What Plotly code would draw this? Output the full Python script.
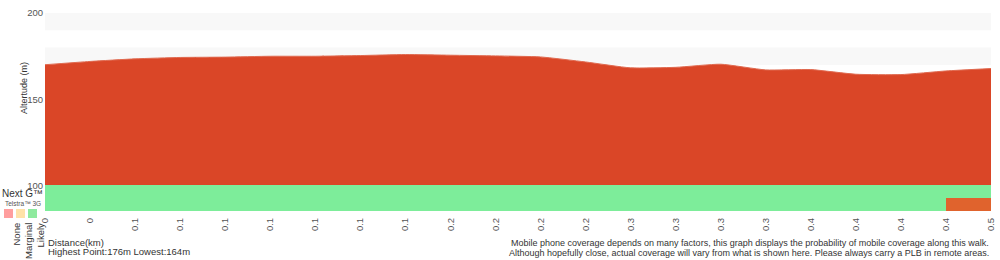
import plotly.graph_objects as go

# ---- data ----
point_index = list(range(22))
tick_labels = ["0", "0", "0.1", "0.1", "0.1", "0.1", "0.1", "0.1", "0.1", "0.2", "0.2",
               "0.2", "0.2", "0.3", "0.3", "0.3", "0.3", "0.4", "0.4", "0.4", "0.4", "0.5"]
altitude = [170.1, 172.0, 173.5, 174.3, 174.5, 175.0, 175.0, 175.4, 176.0, 175.6, 175.2,
            174.6, 171.7, 168.3, 168.6, 170.4, 167.1, 167.3, 164.6, 164.4, 166.5, 167.9]
# coverage per segment: 2 = Likely, 1 = Marginal, 0 = None
next_g = [2] * 21
telstra_3g = [2] * 20 + [1]
coverage_rows = ["Telstra 3G", "Next G"]
legend_labels = ["None", "Marginal", "Likely"]
legend_colors = ["#ff9e9e", "#ffe2a8", "#8eea9e"]

W, H = 1000, 260
def py(px):
    return (H - px) / H

FONT = "Liberation Sans, Arial, sans-serif"

fig = go.Figure()

fig.add_trace(go.Scatter(
    x=point_index, y=altitude, mode="lines", fill="tozeroy",
    line=dict(color="#e06a50", width=1, shape="spline", smoothing=0.5),
    fillcolor="#da4627", hoverinfo="skip", showlegend=False,
))

fig.add_trace(go.Heatmap(
    x=point_index, y=[0, 1, 2], z=[telstra_3g, next_g],
    zmin=0, zmax=2,
    colorscale=[[0, "#f58a8a"], [0.3333, "#f58a8a"], [0.3334, "#e0632d"], [0.6666, "#e0632d"],
                [0.6667, "#7ded9a"], [1, "#7ded9a"]],
    showscale=False, xaxis="x", yaxis="y2", hoverinfo="skip",
))

# alternating background bands
for lo, hi in [(190, 200), (170, 180), (150, 160), (130, 140), (110, 120)]:
    fig.add_shape(type="rect", xref="paper", yref="y", x0=0.045, x1=0.991, y0=lo, y1=hi,
                  fillcolor="#f8f8f8", line_width=0, layer="below")

fig.update_layout(
    width=W, height=H, margin=dict(l=0, r=0, t=0, b=0, autoexpand=False),
    paper_bgcolor="white", plot_bgcolor="white",
    font=dict(family=FONT, size=9, color="#333"),
    xaxis=dict(domain=[0.045, 0.991], range=[0, 21], anchor="y2", automargin=False,
               tickmode="array", tickvals=point_index, ticktext=tick_labels,
               tickangle=-90, tickfont=dict(size=9.5, color="#555"), ticklabelstandoff=4,
               showgrid=False, zeroline=False, showline=False, ticks=""),
    yaxis=dict(domain=[py(186), py(13)], range=[100, 200], anchor="x", automargin=False,
               tickvals=[100, 150, 200], tickfont=dict(size=9.5, color="#555"),
               ticklabelstandoff=1,
               showgrid=False, zeroline=False, showline=False, ticks=""),
    yaxis2=dict(domain=[py(211), py(185)], range=[0, 2], anchor="x", automargin=False,
                showticklabels=False, showgrid=False, zeroline=False, showline=False),
)

ann = []
ann.append(dict(x=0.017, y=py(88), xref="paper", yref="paper", text="Altertude (m)",
                textangle=-90, showarrow=False, font=dict(size=9, color="#333")))
ann.append(dict(x=0, y=py(201), xref="paper", yref="paper", text="Next G™",
                xanchor="left", showarrow=False, font=dict(size=10, color="#333")))
ann.append(dict(x=0.003, y=py(209), xref="paper", yref="paper", text="Telstra™ 3G",
                xanchor="left", showarrow=False, font=dict(size=6.5, color="#555")))
for i, (lab, col) in enumerate(zip(legend_labels, legend_colors)):
    x0 = 4 + 12 * i
    fig.add_shape(type="rect", xref="paper", yref="paper", x0=x0 / W, x1=(x0 + 9) / W,
                  y0=py(218), y1=py(209), fillcolor=col, line_width=0)
    ann.append(dict(x=(x0 + 4.5) / W, y=py(221), xref="paper", yref="paper", text=lab,
                    textangle=-90, yanchor="top", showarrow=False,
                    font=dict(size=9.5, color="#333")))
ann.append(dict(x=0.046, y=py(250), xref="paper", yref="paper", text="Distance(km)",
                xanchor="left", showarrow=False, font=dict(size=9.5, color="#333")))
ann.append(dict(x=0.046, y=py(259), xref="paper", yref="paper",
                text="Highest Point:176m Lowest:164m",
                xanchor="left", showarrow=False, font=dict(size=9.5, color="#333")))
ann.append(dict(x=0.991, y=py(250), xref="paper", yref="paper",
                text="Mobile phone coverage depends on many factors, this graph displays the probability of mobile coverage along this walk.",
                xanchor="right", showarrow=False, font=dict(size=9, color="#333")))
ann.append(dict(x=0.991, y=py(260), xref="paper", yref="paper",
                text="Although hopefully close, actual coverage will vary from what is shown here. Please always carry a PLB in remote areas.",
                xanchor="right", showarrow=False, font=dict(size=9, color="#333")))
fig.update_layout(annotations=ann)

fig.write_html("out.html")
